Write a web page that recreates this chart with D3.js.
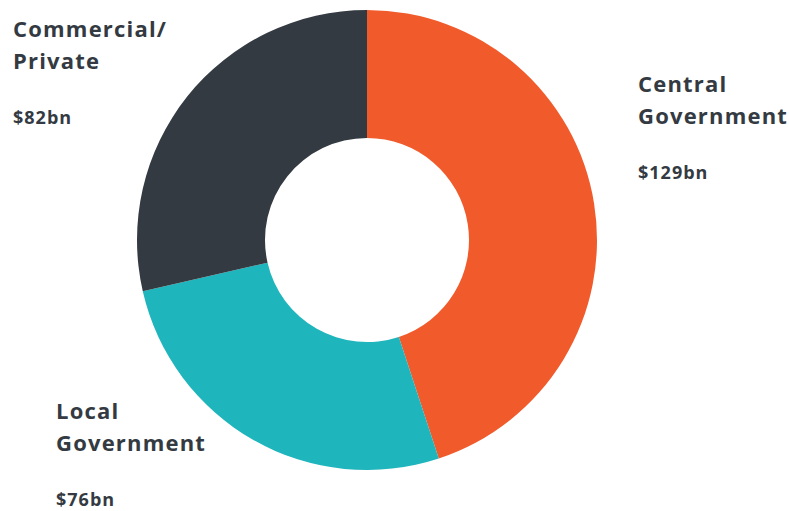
<!DOCTYPE html>
<html>
<head>
<meta charset="utf-8">
<script src="https://cdn.jsdelivr.net/npm/d3@7"></script>
<style>
  html, body { margin: 0; padding: 0; background: #fff; }
  svg { display: block; }
  .name { font-family: "Open Sans", "Lato", sans-serif; font-weight: 700; font-size: 22px; letter-spacing: 1.2px; fill: #343a42; }
  .value { font-family: "Open Sans", "Lato", sans-serif; font-weight: 700; font-size: 18px; letter-spacing: 1px; fill: #343a42; }
</style>
</head>
<body>
<svg id="chart" width="789" height="511"></svg>
<script>
// Spending by source, in $bn
const categories = ["Central Government", "Local Government", "Commercial/Private"];
const values = [129, 76, 82];
const valueLabels = ["$129bn", "$76bn", "$82bn"];
const nameLines = [["Central", "Government"], ["Local", "Government"], ["Commercial/", "Private"]];
const colors = ["#f15a2b", "#1fb5bc", "#343a42"];

const width = 789, height = 511;
const cx = 367, cy = 240, outerR = 230, innerR = 102;

const svg = d3.select("#chart");

const pie = d3.pie().sort(null).value(d => d);
const arc = d3.arc().innerRadius(innerR).outerRadius(outerR);
const color = d3.scaleOrdinal().domain(categories).range(colors);

const g = svg.append("g").attr("transform", `translate(${cx},${cy})`);
g.selectAll("path")
  .data(pie(values))
  .join("path")
  .attr("d", arc)
  .attr("fill", (d, i) => color(categories[i]));

// Label blocks: name lines followed by the value
const labelPos = [
  { x: 638, y: 92 },
  { x: 56, y: 419 },
  { x: 13, y: 37 }
];

categories.forEach((c, i) => {
  const p = labelPos[i];
  const t = svg.append("g");
  nameLines[i].forEach((line, j) => {
    t.append("text").attr("class", "name")
      .attr("x", p.x).attr("y", p.y + j * 32)
      .text(line);
  });
  t.append("text").attr("class", "value")
    .attr("x", p.x).attr("y", p.y + (nameLines[i].length - 1) * 32 + 55)
    .text(valueLabels[i]);
});
</script>
</body>
</html>
